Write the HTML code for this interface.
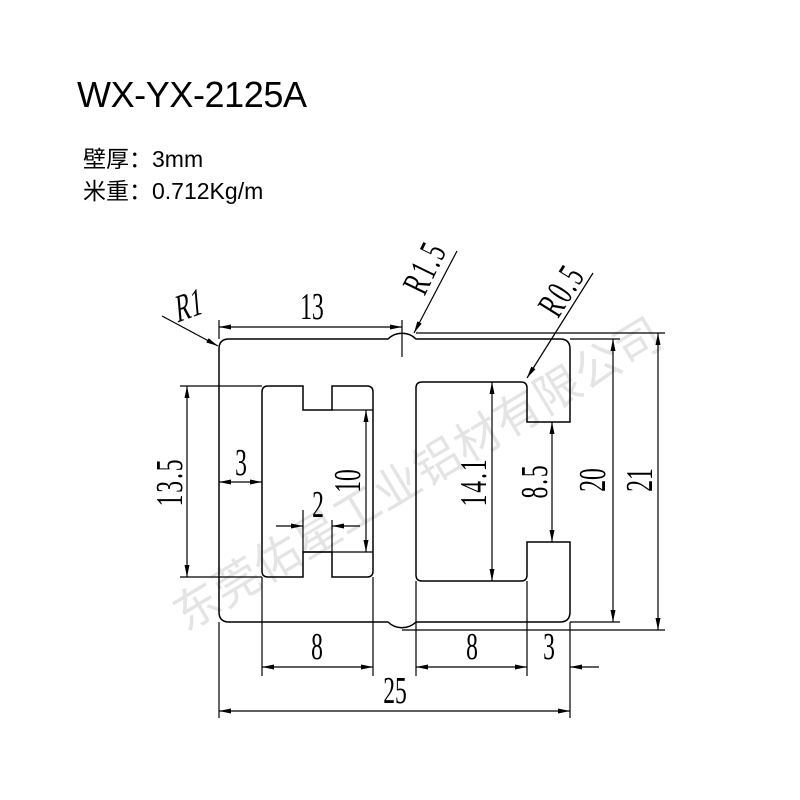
<!DOCTYPE html>
<html><head><meta charset="utf-8"><style>
html,body{margin:0;padding:0;background:#fff;}
svg{display:block;}
.d{font-family:"Liberation Serif","Noto Serif CJK SC",serif;font-size:38px;fill:#000;}
</style></head><body>
<svg width="800" height="800" viewBox="0 0 800 800" xmlns="http://www.w3.org/2000/svg">
<defs>
<marker id="a" viewBox="0 0 12 6" refX="12" refY="3" markerWidth="12" markerHeight="6" markerUnits="userSpaceOnUse" orient="auto-start-reverse"><path d="M0,0.5 L12,3 L0,5.5 z" fill="#000"/></marker>
</defs>
<rect width="800" height="800" fill="#fff"/>
<text x="418" y="490" transform="rotate(-31 418 475)" text-anchor="middle" font-family="Liberation Sans,'Noto Sans CJK SC',sans-serif" font-size="46" fill="#e4e4e4" textLength="560">东莞佑星工业铝材有限公司</text>

<text x="77" y="107" font-family="Liberation Sans,sans-serif" font-size="36" fill="#000" textLength="230">WX-YX-2125A</text>
<text x="83" y="167" font-family="'Liberation Sans','Noto Sans CJK SC',sans-serif" font-size="23" fill="#000">壁厚：3mm</text>
<text x="83" y="199" font-family="'Liberation Sans','Noto Sans CJK SC',sans-serif" font-size="23" fill="#000">米重：0.712Kg/m</text>

<g fill="none" stroke="#000" stroke-width="1.5">
<path d="M229 339 H388 A20 20 0 0 1 416 339 H560 Q570 339 570 349 V422 H527 V388 Q527 382 521 382 H422 Q416 382 416 388 V575 Q416 581 422 581 H521 Q527 581 527 575 V542 H570 V612 Q570 622 560 622 H416 A20 20 0 0 1 388 622 H229 Q219 622 219 612 V349 Q219 339 229 339 Z"/>
<path d="M268 386 H303 V410 H332 V386 H367 Q373 386 373 392 V571 Q373 577 367 577 H332 V552 H303 V577 H268 Q262 577 262 571 V392 Q262 386 268 386 Z"/>
</g>
<g fill="none" stroke="#000" stroke-width="1.2">
<path d="M219 320 V339 M219 622 V718 M570 622 V718 M262 577 V676 M373 577 V676 M416 581 V676 M527 581 V676 M402 320 V357"/>
<path d="M180 386 H262 M180 577 H262 M332 410 H373 M303 552 H373 M303 510 V552 M332 520 V552"/>
<path d="M570 339 H620 M570 622 H620 M416 333 H665 M402 630 H665"/>
</g>
<g stroke="#000" stroke-width="1.2" fill="none" marker-start="url(#a)" marker-end="url(#a)">
<line x1="219" y1="327" x2="402" y2="327"/>
<line x1="187" y1="386" x2="187" y2="577"/>
<line x1="219" y1="482" x2="262" y2="482"/>
<line x1="366" y1="410" x2="366" y2="552"/>
<line x1="492" y1="382" x2="492" y2="581"/>
<line x1="552" y1="422" x2="552" y2="542"/>
<line x1="613" y1="339" x2="613" y2="622"/>
<line x1="658" y1="333" x2="658" y2="630"/>
<line x1="262" y1="667" x2="373" y2="667"/>
<line x1="416" y1="667" x2="527" y2="667"/>
<line x1="219" y1="711" x2="570" y2="711"/>
</g>
<g stroke="#000" stroke-width="1.2" fill="none" marker-end="url(#a)">
<line x1="276" y1="526" x2="303" y2="526"/>
<line x1="360" y1="526" x2="332" y2="526"/>
<line x1="599" y1="667" x2="570" y2="667"/>
<line x1="162" y1="316" x2="218" y2="346"/>
<line x1="457" y1="251" x2="414" y2="333"/>
<line x1="593" y1="273" x2="527" y2="378"/>
</g>
<g class="d" text-anchor="middle">
<text transform="translate(312,319) scale(0.62,1)">13</text>
<text transform="translate(241,475) scale(0.62,1)">3</text>
<text transform="translate(318,517) scale(0.62,1)">2</text>
<text transform="translate(317,659) scale(0.62,1)">8</text>
<text transform="translate(472,659) scale(0.62,1)">8</text>
<text transform="translate(549,659) scale(0.62,1)">3</text>
<text transform="translate(395,703) scale(0.62,1)">25</text>
<text transform="translate(182,482) rotate(-90) scale(0.62,1)" letter-spacing="3">13.5</text>
<text transform="translate(360,481) rotate(-90) scale(0.62,1)">10</text>
<text transform="translate(486,482) rotate(-90) scale(0.62,1)" letter-spacing="3">14.1</text>
<text transform="translate(547,481) rotate(-90) scale(0.62,1)" letter-spacing="3">8.5</text>
<text transform="translate(605,480) rotate(-90) scale(0.62,1)">20</text>
<text transform="translate(652,480) rotate(-90) scale(0.62,1)">21</text>
<text transform="translate(436,273) rotate(-64) scale(0.62,1)" letter-spacing="3">R1.5</text>
<text transform="translate(572,297) rotate(-58) scale(0.62,1)" letter-spacing="3">R0.5</text>
<text transform="translate(190,318) rotate(-20) skewX(-15) scale(0.62,1)">R1</text>
</g>
</svg>
</body></html>
